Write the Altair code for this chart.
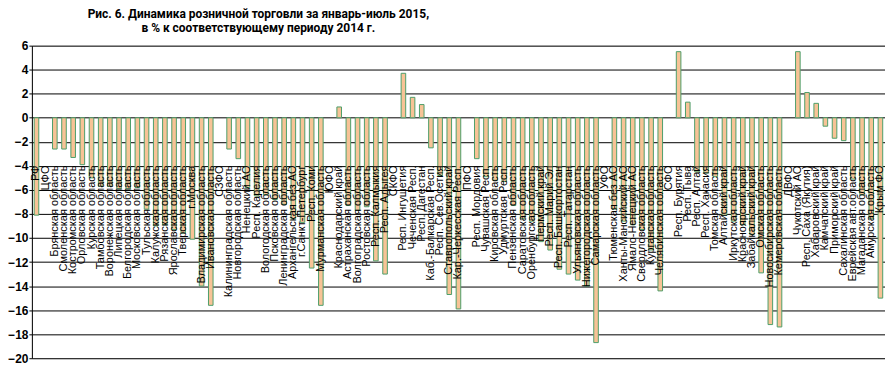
import altair as alt
import pandas as pd

regions = [
    "РФ", "ЦФО", "Брянская область", "Смоленская область", "Костромская область",
    "Орловская область", "Курская область", "Тамбовская область", "Воронежская область",
    "Липецкая область", "Белгородская область", "Московская область", "Тульская область",
    "Калужская область", "Рязанская область", "Ярославская область", "Тверская область",
    "г.Москва", "Владимирская область", "Ивановская область", "СЗФО",
    "Калининградская область", "Новгородская область", "Ненецкий АО", "Респ. Карелия",
    "Вологодская область", "Псковская область", "Ленинградская область",
    "Архангельская без АО", "г.Санкт-Петербург", "Респ. Коми", "Мурманская область",
    "ЮФО", "Краснодарский край", "Астраханская область", "Волгоградская область",
    "Ростовская область", "Респ. Калмыкия", "Респ. Адыгея", "СКФО", "Респ. Ингушетия",
    "Чеченская Респ.", "Респ. Дагестан", "Каб.-Балкарская Респ.", "Респ. Сев.Осетия",
    "Ставропольский край", "Кар.-Черкесская Респ.", "ПФО", "Респ. Мордовия",
    "Чувашская Респ.", "Кировская область", "Удмуртская Респ.", "Пензенская область",
    "Саратовская область", "Оренбургская область", "Пермский край", "Респ. Марий Эл",
    "Респ. Башкортостан", "Респ. Татарстан", "Ульяновская область",
    "Нижегородская область", "Самарская область", "УФО", "Тюменская без АО",
    "Ханты-Мансийский АО", "Ямало-Ненецкий АО", "Свердловская область",
    "Курганская область", "Челябинская область", "СФО", "Респ. Бурятия", "Респ. Тыва",
    "Респ. Алтай", "Респ. Хакасия", "Томская область", "Алтайский край",
    "Иркутская область", "Красноярский край", "Забайкальский край", "Омская область",
    "Новосибирская область", "Кемеровская область", "ДВФО", "Чукотский АО",
    "Респ. Саха (Якутия)", "Хабаровский край", "Камчатский край", "Приморский край",
    "Сахалинская область", "Еврейская авт.область", "Магаданская область",
    "Амурская область", "Крым ФО",
]

values = [
    -8.1, None, -2.6, -2.6, -3.3,
    -3.9, -5.0, -5.7, -5.7,
    -5.9, -5.9, -5.8, -7.6,
    -9.0, -8.9, -9.3, -9.6,
    -10.1, -14.0, -15.6, None,
    -2.6, -3.4, -5.8, -6.5,
    -6.4, -6.8, -7.2,
    -8.4, -8.7, -12.5, -15.6,
    None, 0.9, -7.3, -7.7,
    -7.4, -11.9, -13.0, None, 3.7,
    1.7, 1.1, -2.5, -4.8,
    -14.7, -15.9, None, -3.4,
    -4.9, -5.2, -5.3, -7.3,
    -8.4, -8.6, -10.3, -11.0,
    -12.6, -13.0, -13.5,
    -14.0, -18.7, None, -7.6,
    -8.6, -8.9, -9.3,
    -11.0, -14.4, None, 5.5, 1.3,
    -4.5, -4.6, -4.9, -8.1,
    -8.6, -8.9, -9.7, -12.9,
    -17.2, -17.4, None, 5.5,
    2.1, 1.2, -0.7, -1.7,
    -1.9, -5.1, -6.4,
    -8.4, -15.0,
]

y_ticks = list(range(-20, 7, 2))
title_lines = [
    "Рис. 6. Динамика розничной торговли за январь-июль 2015,",
    "в % к соответствующему периоду 2014 г.",
]

df = pd.DataFrame({"region": regions, "value": values})

bars = alt.Chart(df).mark_bar(
    fill="#F7C396", stroke="#4E9E6A", strokeWidth=1
).encode(
    x=alt.X(
        "region:N",
        sort=regions,
        scale=alt.Scale(paddingInner=0.5, paddingOuter=0.25),
        axis=alt.Axis(
            orient="bottom",
            offset=-194,
            labelAngle=270,
            labelAlign="right",
            labelBaseline="middle",
            labelFont="Liberation Sans",
            labelFontSize=11,
            labelColor="black",
            labelPadding=0,
            labelOverlap=False,
            labelLimit=300,
            ticks=False,
            domain=False,
            grid=False,
            title=None,
            zindex=2,
        ),
    ),
    y=alt.Y(
        "value:Q",
        scale=alt.Scale(domain=[-20, 6], nice=False, zero=False),
        axis=alt.Axis(
            values=y_ticks,
            tickCount=14,
            grid=True,
            gridColor="black",
            gridOpacity=1,
            gridWidth=1,
            domainColor="black",
            tickColor="black",
            tickSize=3,
            labelFontSize=12,
            labelFontWeight="bold",
            labelFont="Liberation Sans",
            labelColor="black",
            labelPadding=1,
            labelOverlap=False,
            title=None,
        ),
    ),
    y2=alt.datum(0),
)

chart = (
    bars.properties(
        width=857,
        height=314,
        padding={"left": 24, "top": 37, "right": 0, "bottom": 10},
        autosize=alt.AutoSizeParams(type="none"),
        title=alt.TitleParams(
            text=title_lines,
            font="Liberation Sans Narrow, Roboto, Liberation Sans, sans-serif",
            fontSize=12,
            fontWeight="bold",
            lineHeight=13.5,
            color="black",
            anchor="middle",
            dx=-201,
            offset=5,
        ),
    )
    .configure_view(stroke=None)
    .configure(background="white")
)

chart.save("out.html", embed_options={"renderer": "svg", "actions": False})
